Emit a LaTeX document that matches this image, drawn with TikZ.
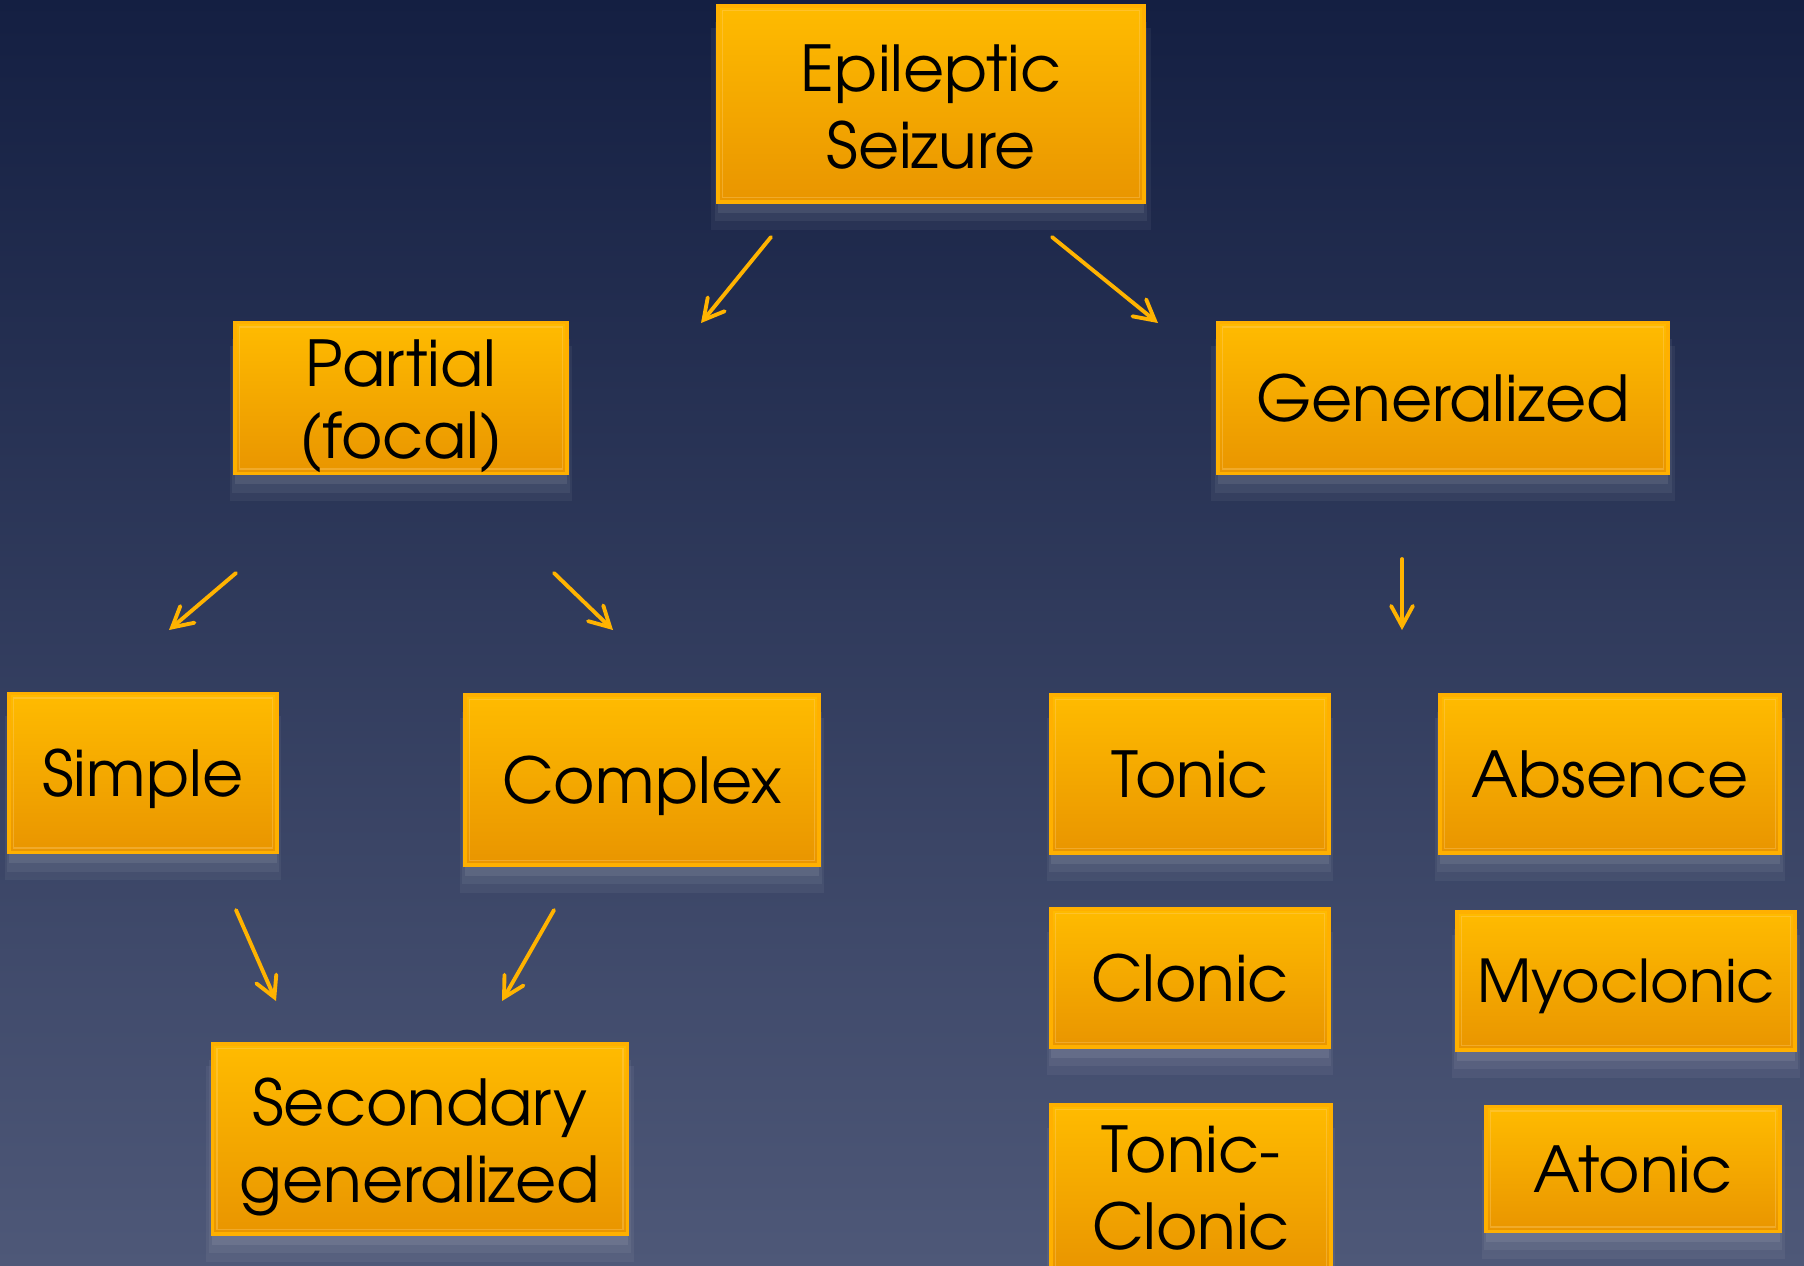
\documentclass[tikz,border=0pt]{standalone}
\usepackage{fontspec}
\setmainfont{TeX Gyre Adventor}
\usetikzlibrary{arrows.meta,shadows}

\definecolor{bgtop}{HTML}{141F42}
\definecolor{bgmid}{HTML}{2F3858}
\definecolor{bgbot}{HTML}{4E5878}
\definecolor{boxtop}{HTML}{FFBB00}
\definecolor{boxbot}{HTML}{E99500}
\definecolor{boxedge}{HTML}{FFB000}
\definecolor{boxhi}{HTML}{FFD27A}
\definecolor{arrowc}{HTML}{FFB300}

\tikzset{
  box/.style={rectangle, draw=boxedge, line width=1pt,
    top color=boxtop, bottom color=boxbot,
    align=center, inner sep=0pt,
    font=\fontsize{18pt}{22pt}\selectfont,
    general shadow={fill=white, opacity=0.05, shadow yshift=-7pt, shadow scale=1.03},
    general shadow={fill=white, opacity=0.06, shadow yshift=-5pt, shadow scale=1.015},
    general shadow={fill=white, opacity=0.08, shadow yshift=-3pt},
    path picture={\draw[boxhi, opacity=0.35, line width=0.5pt]
      ([shift={(1.3pt,-1.3pt)}]path picture bounding box.north west) rectangle
      ([shift={(-1.3pt,1.3pt)}]path picture bounding box.south east);}},
  flat/.style={text depth=0pt},
  arr/.style={draw=arrowc, line width=1.1pt, line cap=round,
    -{Straight Barb[length=5.7pt,width=6.2pt,line cap=round]}}
}

\begin{document}
\begin{tikzpicture}[x=0.01cm, y=-0.01cm]
    % background
    \clip (0,0) rectangle (1804,1265);
    \fill[top color=bgtop, middle color=bgmid, bottom color=bgbot] (0,0) rectangle (1804,1265);

    % boxes
    \node[box, minimum width=4.26cm, minimum height=1.96cm] (seizure) at (931,104) {\rule{0pt}{15pt}Epileptic\\Seizure};
    \node[box, minimum width=3.32cm, minimum height=1.51cm, font=\fontsize{18pt}{20.5pt}\selectfont] (partial) at (401,398) {\rule{0pt}{17.8pt}Partial\\(focal)};
    \node[box, flat, minimum width=4.50cm, minimum height=1.51cm] (general) at (1443,398) {Generalized};

    \node[box, flat, minimum width=2.68cm, minimum height=1.59cm] (simple) at (143,773) {Simple};
    \node[box, flat, minimum width=3.54cm, minimum height=1.70cm] (complex) at (642,780) {Complex};
    \node[box, minimum width=4.15cm, minimum height=1.90cm] (secondary) at (420,1139) {\rule{0pt}{18pt}Secondary\\generalized};

    \node[box, flat, minimum width=2.78cm, minimum height=1.58cm] (tonic) at (1190,774) {Tonic};
    \node[box, flat, minimum width=2.78cm, minimum height=1.38cm] (clonic) at (1190,978) {Clonic};
    \node[box, minimum width=2.80cm, minimum height=1.66cm] (tonicclonic) at (1191,1188) {Tonic-\\Clonic};
    \node[box, flat, minimum width=3.40cm, minimum height=1.58cm] (absence) at (1610,774) {Absence};
    \node[box, flat, minimum width=3.38cm, minimum height=1.38cm, font=\fontsize{16.8pt}{20pt}\selectfont] (myoclonic) at (1626,981) {Myoclonic};
    \node[box, flat, minimum width=2.94cm, minimum height=1.25cm] (atonic) at (1633,1169) {Atonic};

    % arrow ends
    \coordinate (sz1) at (771,237);
    \coordinate (sz2) at (701,323);
    \coordinate (sz3) at (1052,237);
    \coordinate (sz4) at (1158,323);
    \coordinate (pt1) at (236,573);
    \coordinate (pt2) at (169,630);
    \coordinate (pt3) at (554,573);
    \coordinate (pt4) at (613,630);
    \coordinate (gn1) at (1402,559);
    \coordinate (gn2) at (1402,630);
    \coordinate (sm1) at (236,910);
    \coordinate (sm2) at (276,1001);
    \coordinate (cx1) at (554,910);
    \coordinate (cx2) at (502,1001);

    \draw[arr] (sz1) -- (sz2);
    \draw[arr] (sz3) -- (sz4);
    \draw[arr] (pt1) -- (pt2);
    \draw[arr] (pt3) -- (pt4);
    \draw[arr] (gn1) -- (gn2);
    \draw[arr] (sm1) -- (sm2);
    \draw[arr] (cx1) -- (cx2);
\end{tikzpicture}
\end{document}
